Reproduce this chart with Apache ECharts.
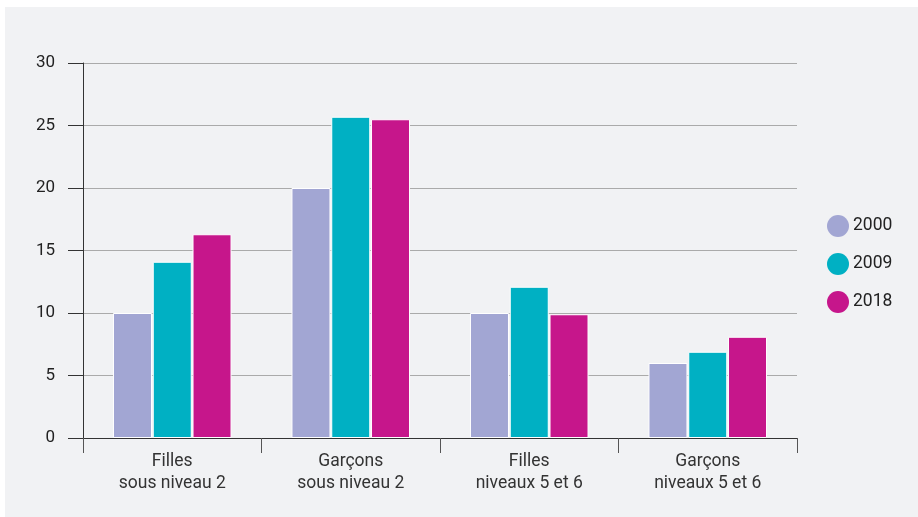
<!DOCTYPE html>
<html>
<head>
<meta charset="utf-8">
<script src="https://cdn.jsdelivr.net/npm/echarts@6/dist/echarts.min.js"></script>
<style>
  html, body { margin: 0; padding: 0; background: #ffffff; }
  #chart { position: absolute; left: 5px; top: 7px; width: 913px; height: 510px; }
</style>
</head>
<body>
<div id="chart"></div>
<script>
const categories = ['Filles\nsous niveau 2', 'Garçons\nsous niveau 2', 'Filles\nniveaux 5 et 6', 'Garçons\nniveaux 5 et 6'];
const years = ['2000', '2009', '2018'];
const values2000 = [10, 20, 10, 6];
const values2009 = [14.1, 25.7, 12.1, 6.9];
const values2018 = [16.3, 25.5, 9.9, 8.1];
const colors = ['#a2a6d3', '#00b0c3', '#c6168b'];

const chart = echarts.init(document.getElementById('chart'));

const seriesData = [values2000, values2009, values2018];

const option = {
  backgroundColor: '#f1f2f4',
  textStyle: { fontFamily: 'Roboto' },
  legend: {
    orient: 'vertical',
    left: 817,
    top: 203,
    itemWidth: 22,
    itemHeight: 22,
    itemGap: 16,
    icon: 'circle',
    itemStyle: { borderWidth: 0 },
    textStyle: { fontSize: 17.5, color: '#222', padding: [0, 0, 0, -1] },
    data: years,
  },
  grid: { left: 78, right: 121, top: 56, bottom: 79 },
  xAxis: {
    type: 'category',
    data: categories,
    axisLine: { lineStyle: { color: '#333', width: 1 } },
    axisTick: { show: true, length: 15, lineStyle: { color: '#555' } },
    axisLabel: { fontSize: 17.5, color: '#333', margin: 13, lineHeight: 22 },
  },
  yAxis: {
    type: 'value',
    min: 0,
    max: 30,
    interval: 5,
    axisLine: { show: true, lineStyle: { color: '#333' } },
    axisTick: { show: true, length: 15, lineStyle: { color: '#333' } },
    axisLabel: { fontSize: 17, color: '#222', margin: 28 },
    splitLine: { lineStyle: { color: '#aaaaaa' } },
  },
  series: seriesData.map((d, i) => ({
    name: years[i],
    type: 'bar',
    data: d,
    barWidth: 39,
    barGap: '2%',
    itemStyle: { color: colors[i], borderColor: '#ffffff', borderWidth: 1 },
  })),
};

chart.setOption(option);
</script>
</body>
</html>
